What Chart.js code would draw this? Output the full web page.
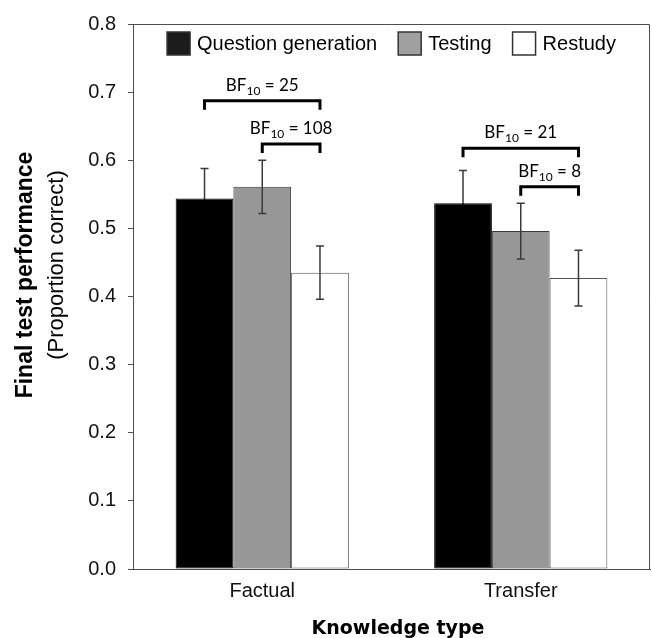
<!DOCTYPE html>
<html>
<head>
<meta charset="utf-8">
<script src="https://cdn.jsdelivr.net/npm/chart.js@4.4.1/dist/chart.umd.min.js"></script>
<style>
  html, body { margin: 0; padding: 0; background: #fff; }
  #wrap { width: 652px; height: 638px; }
</style>
</head>
<body>
<div id="wrap"><canvas id="chart" width="652" height="638"></canvas></div>
<script>
// Values
const categories = ['Factual', 'Transfer'];
const seriesNames = ['Question generation', 'Testing', 'Restudy'];
const questionGeneration = [0.544, 0.537];
const testing = [0.561, 0.496];
const restudy = [0.435, 0.427];
const qgError = [0.044, 0.048];
const testingError = [0.039, 0.041];
const restudyError = [0.039, 0.041];
const yTicks = [0, 0.1, 0.2, 0.3, 0.4, 0.5, 0.6, 0.7, 0.8];

// Bayes factor brackets: category, from series, to series, level, BF value
const bfCategory = [0, 0, 1, 1];
const bfFrom = [0, 1, 0, 1];
const bfTo = [2, 2, 2, 2];
const bfLevel = [0.6875, 0.624, 0.6175, 0.561];
const bfValue = ['25', '108', '21', '8'];

const AXIS_GREY = '#4d4d4d';
const SANS = '"Liberation Sans", Arial, sans-serif';

// error bars, brackets, frame, legend and axis titles
const decorPlugin = {
  id: 'decor',
  afterDatasetsDraw(chart) {
    const ctx = chart.ctx;
    const y = chart.scales.y;
    const area = chart.chartArea;

    // error bars (the half inside the bar can take another colour)
    chart.data.datasets.forEach((ds, i) => {
      const meta = chart.getDatasetMeta(i);
      meta.data.forEach((bar, j) => {
        const top = y.getPixelForValue(ds.data[j] + ds.errors[j]);
        const bot = y.getPixelForValue(ds.data[j] - ds.errors[j]);
        ctx.save();
        ctx.lineWidth = 1.5;
        ctx.strokeStyle = ds.errorColor;
        ctx.beginPath();
        ctx.moveTo(bar.x, top); ctx.lineTo(bar.x, bar.y);
        ctx.moveTo(bar.x - 4, top); ctx.lineTo(bar.x + 4, top);
        ctx.stroke();
        ctx.strokeStyle = ds.errorInside;
        ctx.beginPath();
        ctx.moveTo(bar.x, bar.y); ctx.lineTo(bar.x, bot);
        ctx.moveTo(bar.x - 4, bot); ctx.lineTo(bar.x + 4, bot);
        ctx.stroke();
        ctx.restore();
      });
    });

    // BF brackets
    bfValue.forEach((bf, k) => {
      const x1 = chart.getDatasetMeta(bfFrom[k]).data[bfCategory[k]].x;
      const x2 = chart.getDatasetMeta(bfTo[k]).data[bfCategory[k]].x;
      const ly = y.getPixelForValue(bfLevel[k]);
      ctx.save();
      ctx.strokeStyle = '#000';
      ctx.lineWidth = 3;
      ctx.beginPath();
      ctx.moveTo(x1, ly + 9); ctx.lineTo(x1, ly); ctx.lineTo(x2, ly); ctx.lineTo(x2, ly + 9);
      ctx.stroke();

      const big = '17px Lato, "Open Sans", sans-serif';
      const small = '12px Lato, "Open Sans", sans-serif';
      ctx.font = big;
      const wB = ctx.measureText('BF').width;
      const wR = ctx.measureText(' = ' + bf).width;
      ctx.font = small;
      const wS = ctx.measureText('10').width;
      let tx = (x1 + x2) / 2 - (wB + wS + wR) / 2;
      const by = ly - 10;
      ctx.fillStyle = '#000';
      ctx.textBaseline = 'alphabetic';
      ctx.textAlign = 'left';
      ctx.font = big;
      ctx.fillText('BF', tx, by);
      tx += wB;
      ctx.font = small;
      ctx.fillText('10', tx, by + 4);
      tx += wS;
      ctx.font = big;
      ctx.fillText(' = ' + bf, tx, by);
      ctx.restore();
    });

    // top and right frame
    ctx.save();
    ctx.strokeStyle = AXIS_GREY;
    ctx.lineWidth = 1;
    ctx.beginPath();
    ctx.moveTo(area.left, area.top + 0.5);
    ctx.lineTo(area.right - 0.5, area.top + 0.5);
    ctx.lineTo(area.right - 0.5, area.bottom);
    ctx.stroke();
    ctx.restore();

    // legend inside the plot
    ctx.save();
    ctx.font = '20px ' + SANS;
    const box = 23, boxGap = 7, itemGap = 21;
    const widths = chart.data.datasets.map(ds => ctx.measureText(ds.label).width);
    const total = widths.reduce((a, w) => a + box + boxGap + w, 0) + itemGap * (widths.length - 1);
    let lx = (area.left + area.right) / 2 - total / 2;
    const boxTop = 32;
    chart.data.datasets.forEach((ds, i) => {
      ctx.fillStyle = ds.legendColor;
      ctx.fillRect(lx, boxTop, box, box);
      ctx.strokeStyle = '#333';
      ctx.lineWidth = 1.5;
      ctx.strokeRect(lx, boxTop, box, box);
      ctx.fillStyle = '#000';
      ctx.textBaseline = 'middle';
      ctx.textAlign = 'left';
      ctx.fillText(ds.label, lx + box + boxGap, boxTop + box / 2 + 1);
      lx += box + boxGap + widths[i] + itemGap;
    });
    ctx.restore();

    // axis titles
    ctx.save();
    ctx.fillStyle = '#000';
    ctx.textAlign = 'center';
    ctx.textBaseline = 'middle';
    ctx.translate(26, 275);
    ctx.rotate(-Math.PI / 2);
    ctx.font = 'bold 23px ' + SANS;
    ctx.fillText('Final test performance', 0, 0);
    ctx.restore();

    ctx.save();
    ctx.fillStyle = '#000';
    ctx.textAlign = 'center';
    ctx.textBaseline = 'middle';
    ctx.translate(57, 265);
    ctx.rotate(-Math.PI / 2);
    ctx.font = '22px ' + SANS;
    ctx.fillText('(Proportion correct)', 0, 0);
    ctx.restore();

    ctx.save();
    ctx.fillStyle = '#000';
    ctx.textAlign = 'center';
    ctx.textBaseline = 'alphabetic';
    ctx.font = 'bold 19px "DejaVu Sans", Verdana, sans-serif';
    ctx.fillText('Knowledge type', 398, 634);
    ctx.restore();
  }
};

const ctx = document.getElementById('chart');
new Chart(ctx, {
  type: 'bar',
  data: {
    labels: categories,
    datasets: [
      {
        label: seriesNames[0],
        data: questionGeneration,
        errors: qgError,
        backgroundColor: '#000000',
        borderColor: '#000000',
        borderWidth: 1,
        errorColor: '#3a3a3a',
        errorInside: '#000000',
        legendColor: '#1c1c1c'
      },
      {
        label: seriesNames[1],
        data: testing,
        errors: testingError,
        backgroundColor: '#979797',
        borderColor: '#3a3a3a',
        borderWidth: 1,
        errorColor: '#3a3a3a',
        errorInside: '#3a3a3a',
        legendColor: '#a0a0a0'
      },
      {
        label: seriesNames[2],
        data: restudy,
        errors: restudyError,
        backgroundColor: '#ffffff',
        borderColor: '#555555',
        borderWidth: 1,
        errorColor: '#3a3a3a',
        errorInside: '#3a3a3a',
        legendColor: '#ffffff'
      }
    ]
  },
  options: {
    responsive: false,
    animation: false,
    devicePixelRatio: 1,
    layout: { padding: { top: 17, right: 2, left: 0, bottom: 0 } },
    datasets: {
      bar: { barPercentage: 1.0, categoryPercentage: 0.67, borderSkipped: false }
    },
    plugins: {
      legend: { display: false },
      tooltip: { enabled: false }
    },
    scales: {
      x: {
        grid: { display: false, drawTicks: false },
        border: { display: true, color: AXIS_GREY, width: 1 },
        ticks: { color: '#111', font: { family: SANS, size: 20 }, padding: 10 },
        afterFit(scale) { scale.height = 69; }
      },
      y: {
        min: 0,
        max: 0.8,
        afterBuildTicks(scale) { scale.ticks = yTicks.map(v => ({ value: v })); },
        grid: { drawOnChartArea: false, drawTicks: true, tickLength: 5, color: AXIS_GREY },
        border: { display: true, color: AXIS_GREY, width: 1 },
        ticks: {
          color: '#111',
          font: { family: SANS, size: 20 },
          padding: 12,
          callback: v => v.toFixed(1)
        },
        afterFit(scale) { scale.width = 133; }
      }
    }
  },
  plugins: [decorPlugin]
});
</script>
</body>
</html>
